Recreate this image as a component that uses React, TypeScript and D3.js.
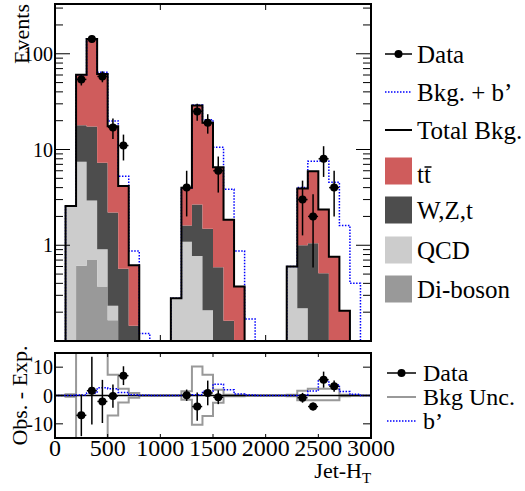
import React from 'react';
import * as d3 from 'd3';

// bin lower edges (Jet-HT), 100 wide, 0..3000
const binLow = d3.range(0, 3000, 100);

// stacked backgrounds per bin (events)
const diboson = [0, 0, 0.61, 0.70, 0.37, 0.165, 0, 0, 0, 0, 0, 0, 0, 0, 0, 0, 0, 0, 0, 0, 0, 0, 0, 0, 0, 0, 0, 0, 0, 0];
const qcd = [0, 2.57, 6.84, 2.24, 0.54, 0.068, 0, 0, 0, 0, 0, 0.28, 1.09, 0.77, 0.21, 0, 0, 0, 0, 0, 0, 0, 0.60, 0.22, 0, 0, 0, 0, 0, 0];
const wzt = [0, 0, 10.45, 14.46, 6.36, 1.96, 0.57, 0.144, 0, 0, 0, 0, 0.52, 1.90, 1.28, 0.59, 0.163, 0, 0, 0, 0, 0, 0, 0.78, 1.05, 0.51, 0, 0, 0, 0];
const ttbar = [0, 0, 42.5, 125.6, 54.3, 15.3, 3.58, 0.476, 0, 0, 0, 0, 2.38, 26.2, 17.5, 5.95, 1.68, 0.37, 0, 0, 0, 0, 0, 2.92, 4.89, 1.86, 0.76, 0.207, 0, 0];
// b' signal on top of background
const signal = [0, 0, 0.15, 0.9, 2.7, 2.4, 1.1, 0.25, 0.12, 0, 0, 0, 0, 0.3, 1.5, 4.0, 2.0, 0.5, 0.17, 0, 0, 0, 0, 0.1, 1.6, 5.2, 3.8, 1.4, 0.4, 0];
// background uncertainty (lower panel)
const uncUp = [0, 0.4, 20, 20, 20, 7.3, 2.4, 0.9, 0, 0, 0, 0, 1.5, 10.2, 7.3, 2.0, 0.3, 0.3, 0, 0, 0, 0, 0.3, 1.7, 2.4, 2.4, 2.4, 0.3, 0, 0];
const uncDown = [0, 0.4, 20, 20, 20, 7.1, 2.5, 0.8, 0, 0, 0, 0, 1.5, 10.3, 7.2, 2.6, 0.3, 0.3, 0, 0, 0, 0, 0.3, 1.7, 1.7, 1.7, 1.7, 0.3, 0, 0];

// data
const dataX = [250, 350, 450, 550, 650, 1250, 1350, 1450, 1550, 2350, 2450, 2550, 2650];
const dataN = [54, 143, 58, 17, 11, 4, 25, 19, 6, 3, 2, 8, 4];
const dataResid = [-7.0, 1.7, -2.1, -0.2, 7.0, 0.1, -3.9, 0.9, -0.6, -0.8, -3.9, 5.6, 3.3];

const upperTicksMajor = [1, 10, 100];
const upperTickLabels = ['1', '10', '100'];
const lowerYTicks = [-10, 0, 10];
const lowerYLabels = ['-10', '0', '10'];
const xTicks = [0, 500, 1000, 1500, 2000, 2500, 3000];
const upperXTicks = [1000, 2000];

const FONT = 'Liberation Serif, Times New Roman, serif';

export default function App() {
  const L = 55, R = 371, T = 4, B = 341, T2 = 353, B2 = 438;
  const x = d3.scaleLinear().domain([0, 3000]).range([L, R]);
  const y = d3.scaleLog().domain([0.1, 331]).range([B, T]).clamp(true);
  const y2 = d3.scaleLinear().domain([-15, 15]).range([B2, T2]);

  const sum = (...arrs: number[][]) => binLow.map((_, i) => arrs.reduce((s, a) => s + a[i], 0));
  const c1 = diboson;
  const c2 = sum(diboson, qcd);
  const c3 = sum(diboson, qcd, wzt);
  const total = sum(diboson, qcd, wzt, ttbar);
  const withSig = sum(total, signal);
  const zeros = binLow.map(() => 0);

  const pts = (v: number[]) => [...binLow.map((b, i) => [b, v[i]] as [number, number]), [3000, v[v.length - 1]] as [number, number]];
  const ly = (v: number) => y(Math.max(v, 1e-4));
  const stepUp = d3.line<[number, number]>().x(d => x(d[0])).y(d => ly(d[1])).curve(d3.curveStepAfter);
  const stepLow = d3.line<[number, number]>().x(d => x(d[0])).y(d => y2(d[1])).curve(d3.curveStepAfter);
  const areaBetween = (lo: number[], hi: number[]) => {
    const p = binLow.map((b, i) => ({ x: b, lo: lo[i], hi: hi[i] }));
    p.push({ x: 3000, lo: lo[lo.length - 1], hi: hi[hi.length - 1] });
    return d3.area<{ x: number; lo: number; hi: number }>()
      .x(d => x(d.x)).y0(d => ly(d.lo)).y1(d => ly(d.hi)).curve(d3.curveStepAfter)(p) || '';
  };

  const layers = [
    { lo: zeros, hi: c1, color: '#999999' },
    { lo: c1, hi: c2, color: '#cccccc' },
    { lo: c2, hi: c3, color: '#4d4d4d' },
    { lo: c3, hi: total, color: '#cf5c5c' },
  ];

  const minorUpper: number[] = [];
  [0.1, 1, 10, 100].forEach(dec => {
    for (let k = 2; k <= 9; k++) {
      const v = dec * k;
      if (v <= 331) minorUpper.push(v);
    }
  });

  const legendUpper = [
    { label: 'Data', type: 'data', yy: 54 },
    { label: 'Bkg. + b’', type: 'blue', yy: 92 },
    { label: 'Total Bkg.', type: 'black', yy: 130 },
    { label: 'tt', type: 'box', color: '#cf5c5c', yy: 171 },
    { label: 'W,Z,t', type: 'box', color: '#4d4d4d', yy: 210 },
    { label: 'QCD', type: 'box', color: '#cccccc', yy: 250 },
    { label: 'Di-boson', type: 'box', color: '#999999', yy: 289 },
  ];
  const legendLower = [
    { label: 'Data', type: 'data', yy: 373 },
    { label: 'Bkg Unc.', type: 'gray', yy: 397 },
    { label: 'b’', type: 'blue', yy: 421 },
  ];

  const legendSym = (e: any, x0: number, x1: number) => {
    if (e.type === 'data') return (<g><line x1={x0} x2={x1} y1={e.yy} y2={e.yy} stroke="#000" strokeWidth={1.5} /><circle cx={(x0 + x1) / 2} cy={e.yy} r={4} fill="#000" /></g>);
    if (e.type === 'blue') return <line x1={x0} x2={x1} y1={e.yy} y2={e.yy} stroke="#0000ff" strokeWidth={1.5} strokeDasharray="1.5,1.5" />;
    if (e.type === 'black') return <line x1={x0} x2={x1} y1={e.yy} y2={e.yy} stroke="#000" strokeWidth={2} />;
    if (e.type === 'gray') return <line x1={x0} x2={x1} y1={e.yy} y2={e.yy} stroke="#999" strokeWidth={2} />;
    return <rect x={x0} y={e.yy - 13.5} width={x1 - x0} height={27} fill={e.color} />;
  };

  return (
    <svg width={525} height={491} style={{ position: 'absolute', left: 0, top: 0, background: '#fff' }} fontFamily={FONT}>
      <defs>
        <clipPath id="cu"><rect x={L} y={T} width={R - L} height={B - T} /></clipPath>
        <clipPath id="cl"><rect x={L} y={T2} width={R - L} height={B2 - T2} /></clipPath>
      </defs>
      <rect x={0} y={0} width={525} height={491} fill="#fff" />

      {/* upper panel */}
      <g clipPath="url(#cu)">
        {layers.map((l, i) => <path key={i} d={areaBetween(l.lo, l.hi)} fill={l.color} />)}
        <path d={stepUp(pts(withSig)) || ''} fill="none" stroke="#0000ff" strokeWidth={1.5} strokeDasharray="1.5,1.5" />
        <path d={stepUp(pts(total)) || ''} fill="none" stroke="#000" strokeWidth={2} />
        {dataX.map((dx, i) => {
          const n = dataN[i], e = Math.sqrt(n);
          return (
            <g key={i}>
              <line x1={x(dx)} x2={x(dx)} y1={ly(n + e)} y2={ly(n - e)} stroke="#000" strokeWidth={1.5} />
              <line x1={x(dx) - 5} x2={x(dx) + 5} y1={ly(n)} y2={ly(n)} stroke="#000" strokeWidth={1.5} />
              <circle cx={x(dx)} cy={ly(n)} r={4} fill="#000" />
            </g>
          );
        })}
      </g>
      {/* upper ticks */}
      <g stroke="#000" strokeWidth={1}>
        {upperTicksMajor.map(v => (
          <g key={v}>
            <line x1={L} x2={L + 15} y1={y(v)} y2={y(v)} />
            <line x1={R} x2={R - 15} y1={y(v)} y2={y(v)} />
          </g>
        ))}
        {minorUpper.map(v => (
          <g key={v}>
            <line x1={L} x2={L + 8} y1={y(v)} y2={y(v)} />
            <line x1={R} x2={R - 8} y1={y(v)} y2={y(v)} />
          </g>
        ))}
        {upperXTicks.map(v => (
          <g key={v}>
            <line x1={x(v)} x2={x(v)} y1={T} y2={T + 6} />
            <line x1={x(v)} x2={x(v)} y1={B} y2={B - 6} />
          </g>
        ))}
      </g>
      <rect x={L} y={T} width={R - L} height={B - T} fill="none" stroke="#000" strokeWidth={2} />
      {upperTicksMajor.map((v, i) => (
        <text key={v} x={53} y={y(v)} dy="0.35em" textAnchor="end" fontSize={20}>{upperTickLabels[i]}</text>
      ))}
      <text transform={`translate(29,4) rotate(-90)`} textAnchor="end" fontSize={22}>Events</text>

      {/* upper legend */}
      {legendUpper.map((e, i) => (
        <g key={i}>
          {legendSym(e, 385, 412)}
          {e.label === 'tt' ? (
            <g>
              <text x={417} y={e.yy + 12} fontSize={25}>tt</text>
              <line x1={424.5} x2={431.5} y1={e.yy - 4} y2={e.yy - 4} stroke="#000" strokeWidth={1.5} />
            </g>
          ) : (
            <text x={417} y={e.yy} dy="0.35em" fontSize={25}>{e.label}</text>
          )}
        </g>
      ))}

      {/* lower panel */}
      <g clipPath="url(#cl)">
        <path d={stepLow(pts(uncUp)) || ''} fill="none" stroke="#999" strokeWidth={2} />
        <path d={stepLow(pts(uncDown.map(v => -v))) || ''} fill="none" stroke="#999" strokeWidth={2} />
        <line x1={L} x2={R} y1={y2(0)} y2={y2(0)} stroke="#000" strokeWidth={1.5} />
        <path d={stepLow(pts(signal)) || ''} fill="none" stroke="#0000ff" strokeWidth={1.5} strokeDasharray="1.5,1.5" />
        {dataX.map((dx, i) => {
          const r = dataResid[i], e = Math.sqrt(dataN[i]);
          return (
            <g key={i}>
              <line x1={x(dx)} x2={x(dx)} y1={y2(r + e)} y2={y2(r - e)} stroke="#000" strokeWidth={1.5} />
              <line x1={x(dx) - 5} x2={x(dx) + 5} y1={y2(r)} y2={y2(r)} stroke="#000" strokeWidth={1.5} />
              <circle cx={x(dx)} cy={y2(r)} r={4} fill="#000" />
            </g>
          );
        })}
      </g>
      <g stroke="#000" strokeWidth={1}>
        {lowerYTicks.map(v => (
          <g key={v}>
            <line x1={L} x2={L + 8} y1={y2(v)} y2={y2(v)} />
            <line x1={R} x2={R - 8} y1={y2(v)} y2={y2(v)} />
          </g>
        ))}
        {xTicks.map(v => (
          <g key={v}>
            <line x1={x(v)} x2={x(v)} y1={T2} y2={T2 + 4} />
            <line x1={x(v)} x2={x(v)} y1={B2} y2={B2 - 4} />
          </g>
        ))}
      </g>
      <rect x={L} y={T2} width={R - L} height={B2 - T2} fill="none" stroke="#000" strokeWidth={2} />
      {lowerYTicks.map((v, i) => (
        <text key={v} x={53} y={y2(v)} dy="0.35em" textAnchor="end" fontSize={20}>{lowerYLabels[i]}</text>
      ))}
      {xTicks.map(v => (
        <text key={v} x={x(v)} y={456} textAnchor="middle" fontSize={24}>{v}</text>
      ))}
      <text x={362} y={478} textAnchor="end" fontSize={22}>Jet-H</text>
      <text x={362} y={483} fontSize={15}>T</text>
      <text transform={`translate(27,${(T2 + B2) / 2}) rotate(-90)`} textAnchor="middle" fontSize={22}>Obs. - Exp.</text>

      {/* lower legend */}
      {legendLower.map((e, i) => (
        <g key={i}>
          {legendSym(e, 387, 416)}
          <text x={423} y={e.yy} dy="0.35em" fontSize={24}>{e.label}</text>
        </g>
      ))}
    </svg>
  );
}
